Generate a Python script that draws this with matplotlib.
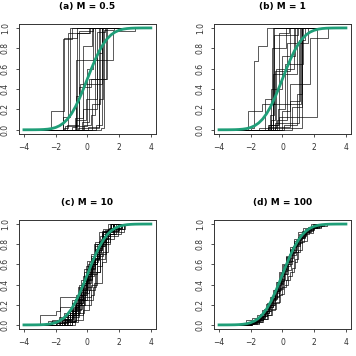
import numpy as np
import matplotlib
matplotlib.use("Agg")
import matplotlib.pyplot as plt

# base measure N(0,1) cdf, values typed in
base_x = [-4.0, -3.75, -3.5, -3.25, -3.0, -2.75, -2.5, -2.25, -2.0, -1.75, -1.5, -1.25, -1.0,
          -0.75, -0.5, -0.25, 0.0, 0.25, 0.5, 0.75, 1.0, 1.25, 1.5, 1.75, 2.0, 2.25, 2.5,
          2.75, 3.0, 3.25, 3.5, 3.75, 4.0]
base_F = [0.0000, 0.0001, 0.0002, 0.0006, 0.0013, 0.0030, 0.0062, 0.0122, 0.0228, 0.0401,
          0.0668, 0.1056, 0.1587, 0.2266, 0.3085, 0.4013, 0.5000, 0.5987, 0.6915, 0.7734,
          0.8413, 0.8944, 0.9332, 0.9599, 0.9772, 0.9878, 0.9938, 0.9970, 0.9987, 0.9994,
          0.9998, 0.9999, 1.0000]

titles = ["(a) M = 0.5", "(b) M = 1", "(c) M = 10", "(d) M = 100"]

# jump locations / cdf level after each jump, one pair per draw
draws_a = [
    ([-2.3, -1.45, -0.68], [0.18, 0.90, 1.0]),
    ([-1.55, -1.12], [0.13, 1.0]),
    ([-1.5, -1.2, 0.1], [0.02, 0.95, 1.0]),
    ([-1.0, -0.72, 1.6, 3.0], [0.03, 0.69, 0.97, 1.0]),
    ([-0.75, -0.45, 0.9], [0.33, 0.45, 1.0]),
    ([-0.6, 0.75], [0.02, 1.0]),
    ([-0.2, 0.25, 0.45], [0.05, 0.15, 1.0]),
    ([-0.35, 0.1, 1.22], [0.08, 0.50, 1.0]),
    ([-0.7, -0.1, 0.6, 1.1], [0.10, 0.30, 0.96, 1.0]),
    ([0.55, 0.9], [0.05, 1.0]),
    ([-0.8, -0.25, 0.3], [0.12, 0.82, 1.0]),
    ([0.3, 0.8], [0.25, 1.0]),
    ([-1.4, 0.0, 0.35], [0.04, 0.60, 1.0]),
    ([-0.55, 0.2, 1.2], [0.42, 0.50, 1.0]),
    ([-1.55, -1.0], [0.89, 1.0]),
    ([0.05, 0.7, 1.0], [0.03, 0.30, 1.0]),
    ([-0.65, 0.15], [0.95, 1.0]),
    ([0.85, 1.05, 1.7], [0.02, 0.98, 1.0]),
    ([-0.3, 0.6, 0.95], [0.20, 0.75, 1.0]),
    ([-1.3, -0.5, 0.35], [0.05, 0.97, 1.0]),
]

draws_b = [
    ([-2.2, -1.3, -0.55], [0.18, 0.25, 1.0]),
    ([-2.0, -1.77, -1.52, -1.0], [0.02, 0.68, 0.82, 1.0]),
    ([-0.85, -0.6], [0.05, 1.0]),
    ([-0.75, -0.5, 0.5], [0.10, 0.58, 1.0]),
    ([-0.6, 1.15], [0.25, 1.0]),
    ([-0.25, 2.15], [0.13, 1.0]),
    ([-0.9, 0.5, 1.73, 2.9], [0.03, 0.45, 0.90, 1.0]),
    ([0.6, 1.25], [0.22, 1.0]),
    ([-0.7, 0.0, 0.8], [0.40, 0.72, 1.0]),
    ([-0.5, 1.2], [0.02, 1.0]),
    ([-1.1, -0.65, 0.25], [0.30, 0.80, 1.0]),
    ([0.1, 0.9, 1.25], [0.05, 0.35, 1.0]),
    ([-0.8, -0.55, 1.0], [0.15, 0.93, 1.0]),
    ([-1.5, -0.4, 0.7], [0.02, 0.60, 1.0]),
    ([-0.35, 0.3, 1.6], [0.10, 0.85, 1.0]),
    ([-0.6, 0.9], [0.55, 1.0]),
    ([0.0, 0.45, 1.1], [0.18, 0.28, 1.0]),
    ([-0.7, -0.2, 0.4], [0.05, 0.95, 1.0]),
    ([-0.45, 1.05, 1.45], [0.07, 0.88, 1.0]),
    ([-0.9, -0.3, 0.15, 1.3], [0.05, 0.20, 0.65, 1.0]),
]

draws_c = [
    ([-3.0, -2.0, -1.7, -1.0, -0.5, -0.1, 0.3, 0.8, 1.3, 2.0],
     [0.10, 0.14, 0.18, 0.25, 0.37, 0.50, 0.66, 0.82, 0.93, 1.0]),
    ([-1.75, -0.5, -0.2, 0.1, 0.5, 0.9, 1.5],
     [0.28, 0.40, 0.52, 0.62, 0.78, 0.92, 1.0]),
    ([-2.3, -1.3, -0.8, -0.4, 0.0, 0.2, 0.6, 1.0, 2.3],
     [0.03, 0.10, 0.20, 0.35, 0.48, 0.60, 0.80, 0.95, 1.0]),
    ([-1.6, -1.0, -0.6, -0.3, 0.0, 0.35, 0.7, 1.1, 1.6],
     [0.05, 0.12, 0.22, 0.40, 0.55, 0.65, 0.82, 0.90, 1.0]),
    ([-1.2, -0.7, -0.4, 0.1, 0.5, 0.8, 1.2, 1.9],
     [0.04, 0.15, 0.25, 0.35, 0.52, 0.70, 0.88, 1.0]),
    ([-2.0, -1.4, -0.9, -0.5, -0.1, 0.3, 0.6, 0.9, 1.3, 2.4],
     [0.02, 0.08, 0.18, 0.30, 0.45, 0.60, 0.74, 0.85, 0.95, 1.0]),
    ([-1.5, -0.8, -0.3, 0.2, 0.4, 0.9, 1.2, 1.7],
     [0.03, 0.10, 0.20, 0.30, 0.42, 0.62, 0.85, 1.0]),
    ([-1.1, -0.6, -0.2, 0.1, 0.4, 0.7, 1.0, 1.5],
     [0.10, 0.20, 0.32, 0.48, 0.68, 0.80, 0.93, 1.0]),
    ([-2.5, -1.8, -1.2, -0.7, -0.4, -0.1, 0.2, 0.5, 1.0, 1.6],
     [0.04, 0.08, 0.14, 0.30, 0.45, 0.58, 0.70, 0.82, 0.92, 1.0]),
    ([-1.3, -0.9, -0.5, 0.0, 0.3, 0.6, 1.0, 1.4, 2.2],
     [0.06, 0.14, 0.25, 0.38, 0.50, 0.68, 0.82, 0.95, 1.0]),
    ([-1.9, -1.1, -0.7, -0.35, 0.05, 0.45, 0.8, 1.3],
     [0.05, 0.15, 0.28, 0.42, 0.60, 0.75, 0.88, 1.0]),
    ([-1.0, -0.5, -0.15, 0.15, 0.5, 0.7, 1.1, 1.8],
     [0.08, 0.20, 0.35, 0.52, 0.65, 0.78, 0.90, 1.0]),
    ([-1.4, -0.95, -0.6, -0.25, 0.0, 0.4, 0.75, 1.5],
     [0.06, 0.17, 0.30, 0.48, 0.63, 0.80, 0.92, 1.0]),
    ([-0.8, -0.3, 0.1, 0.35, 0.55, 0.8, 1.1, 1.45, 2.3],
     [0.05, 0.15, 0.25, 0.38, 0.52, 0.65, 0.80, 0.92, 1.0]),
    ([-2.2, -1.5, -1.0, -0.6, -0.2, 0.2, 0.5, 0.9, 1.6],
     [0.05, 0.12, 0.22, 0.38, 0.55, 0.68, 0.80, 0.93, 1.0]),
    ([-1.7, -1.2, -0.75, -0.4, -0.05, 0.25, 0.65, 1.05, 1.4],
     [0.02, 0.10, 0.20, 0.33, 0.50, 0.62, 0.78, 0.88, 1.0]),
    ([-1.3, -0.7, -0.45, -0.1, 0.15, 0.6, 0.95, 1.7],
     [0.04, 0.22, 0.35, 0.45, 0.60, 0.76, 0.90, 1.0]),
    ([-2.6, -1.6, -1.1, -0.8, -0.3, 0.0, 0.3, 0.7, 1.2, 1.9],
     [0.02, 0.06, 0.12, 0.26, 0.40, 0.52, 0.66, 0.80, 0.93, 1.0]),
    ([-1.0, -0.6, -0.2, 0.25, 0.6, 0.9, 1.3, 2.1],
     [0.03, 0.12, 0.28, 0.40, 0.58, 0.72, 0.90, 1.0]),
    ([-1.6, -0.85, -0.45, -0.15, 0.2, 0.5, 0.85, 1.25, 2.0],
     [0.03, 0.12, 0.25, 0.42, 0.55, 0.72, 0.85, 0.94, 1.0]),
    ([-2.0, -1.2, -0.8, -0.55, -0.2, 0.05, 0.4, 0.75, 1.1, 1.7],
     [0.04, 0.10, 0.18, 0.30, 0.44, 0.58, 0.70, 0.83, 0.94, 1.0]),
    ([-1.4, -0.9, -0.35, 0.0, 0.3, 0.6, 0.95, 1.4, 2.1],
     [0.05, 0.16, 0.30, 0.46, 0.60, 0.74, 0.86, 0.96, 1.0]),
    ([-1.8, -1.1, -0.65, -0.3, 0.1, 0.45, 0.85, 1.2, 1.6],
     [0.06, 0.14, 0.26, 0.42, 0.56, 0.70, 0.84, 0.93, 1.0]),
    ([-1.5, -0.95, -0.55, -0.25, 0.05, 0.35, 0.7, 1.0, 1.35, 2.2],
     [0.03, 0.10, 0.22, 0.36, 0.50, 0.64, 0.78, 0.88, 0.96, 1.0]),
]

draws_d = [
    ([-2.4, -1.9, -1.5, -1.2, -0.95, -0.7, -0.5, -0.3, -0.1, 0.1, 0.3, 0.5, 0.75, 1.0, 1.3, 1.7, 2.3],
     [0.02, 0.04, 0.08, 0.13, 0.19, 0.26, 0.33, 0.40, 0.48, 0.56, 0.64, 0.72, 0.80, 0.86, 0.92, 0.97, 1.0]),
    ([-2.2, -1.8, -1.45, -1.15, -0.9, -0.65, -0.45, -0.25, -0.05, 0.15, 0.35, 0.6, 0.85, 1.1, 1.4, 1.9, 2.6],
     [0.01, 0.03, 0.06, 0.10, 0.16, 0.22, 0.29, 0.37, 0.46, 0.55, 0.63, 0.72, 0.80, 0.87, 0.93, 0.98, 1.0]),
    ([-2.0, -1.6, -1.3, -1.0, -0.75, -0.5, -0.25, 0.0, 0.25, 0.5, 0.7, 0.9, 1.1, 1.35, 1.7, 2.2],
     [0.01, 0.03, 0.06, 0.10, 0.15, 0.22, 0.30, 0.38, 0.45, 0.52, 0.62, 0.72, 0.82, 0.90, 0.96, 1.0]),
    ([-3.3, -2.3, -1.9, -1.6, -1.3, -1.05, -0.8, -0.6, -0.4, -0.2, 0.0, 0.2, 0.45, 0.7, 1.0, 1.3, 1.8],
     [0.01, 0.05, 0.07, 0.10, 0.15, 0.21, 0.28, 0.35, 0.43, 0.52, 0.60, 0.68, 0.77, 0.85, 0.92, 0.96, 1.0]),
    ([-2.1, -1.7, -1.35, -1.1, -0.85, -0.6, -0.35, -0.15, 0.05, 0.25, 0.45, 0.65, 0.9, 1.15, 1.5, 2.0, 2.8],
     [0.02, 0.04, 0.08, 0.12, 0.18, 0.26, 0.34, 0.42, 0.50, 0.58, 0.66, 0.74, 0.82, 0.89, 0.94, 0.98, 1.0]),
    ([-2.3, -1.85, -1.55, -1.25, -1.0, -0.8, -0.55, -0.35, -0.1, 0.1, 0.3, 0.55, 0.8, 1.05, 1.35, 1.8, 2.4],
     [0.01, 0.03, 0.05, 0.09, 0.14, 0.20, 0.27, 0.35, 0.44, 0.53, 0.62, 0.71, 0.79, 0.86, 0.92, 0.97, 1.0]),
    ([-1.9, -1.5, -1.2, -0.95, -0.7, -0.45, -0.2, 0.05, 0.3, 0.55, 0.75, 0.95, 1.2, 1.5, 1.9, 2.5],
     [0.02, 0.05, 0.09, 0.14, 0.20, 0.28, 0.36, 0.45, 0.54, 0.63, 0.72, 0.81, 0.88, 0.94, 0.98, 1.0]),
    ([-2.6, -2.0, -1.6, -1.3, -1.05, -0.8, -0.6, -0.4, -0.2, 0.0, 0.2, 0.4, 0.65, 0.9, 1.2, 1.55, 2.2],
     [0.01, 0.03, 0.06, 0.11, 0.17, 0.23, 0.30, 0.38, 0.46, 0.54, 0.62, 0.70, 0.78, 0.85, 0.91, 0.96, 1.0]),
    ([-2.0, -1.65, -1.4, -1.1, -0.85, -0.6, -0.4, -0.15, 0.1, 0.35, 0.6, 0.85, 1.1, 1.4, 1.75, 2.3],
     [0.02, 0.04, 0.07, 0.12, 0.18, 0.25, 0.32, 0.41, 0.50, 0.60, 0.69, 0.78, 0.86, 0.92, 0.96, 1.0]),
    ([-2.5, -1.95, -1.6, -1.35, -1.1, -0.85, -0.65, -0.45, -0.25, -0.05, 0.15, 0.4, 0.6, 0.85, 1.15, 1.5, 2.0],
     [0.01, 0.03, 0.06, 0.09, 0.14, 0.20, 0.27, 0.34, 0.42, 0.51, 0.60, 0.69, 0.77, 0.84, 0.90, 0.95, 1.0]),
    ([-2.3, -1.9, -1.55, -1.3, -1.05, -0.85, -0.65, -0.45, -0.3, -0.1, 0.1, 0.3, 0.5, 0.75, 1.0, 1.3, 1.7, 2.2],
     [0.02, 0.04, 0.07, 0.11, 0.16, 0.22, 0.29, 0.36, 0.43, 0.51, 0.59, 0.67, 0.74, 0.81, 0.87, 0.93, 0.97, 1.0]),
    ([-2.2, -1.75, -1.4, -1.15, -0.9, -0.7, -0.5, -0.3, -0.1, 0.1, 0.3, 0.5, 0.7, 0.95, 1.25, 1.6, 2.1],
     [0.02, 0.05, 0.09, 0.14, 0.20, 0.27, 0.34, 0.42, 0.50, 0.58, 0.66, 0.74, 0.81, 0.87, 0.93, 0.97, 1.0]),
    ([-1.9, -1.5, -1.2, -0.9, -0.65, -0.4, -0.15, 0.1, 0.35, 0.6, 0.8, 1.0, 1.25, 1.55, 1.9, 2.4],
     [0.01, 0.03, 0.06, 0.10, 0.16, 0.23, 0.31, 0.40, 0.48, 0.56, 0.65, 0.74, 0.83, 0.91, 0.96, 1.0]),
    ([-2.5, -2.0, -1.7, -1.4, -1.15, -0.95, -0.75, -0.55, -0.35, -0.15, 0.05, 0.25, 0.5, 0.75, 1.05, 1.4, 1.9],
     [0.02, 0.04, 0.07, 0.11, 0.16, 0.22, 0.28, 0.35, 0.43, 0.51, 0.59, 0.67, 0.75, 0.83, 0.90, 0.95, 1.0]),
]

all_draws = [draws_a, draws_b, draws_c, draws_d]

# axes boxes in figure fractions [left, bottom, width, height]
boxes = [[0.053, 0.624, 0.385, 0.309],
         [0.601, 0.624, 0.385, 0.309],
         [0.053, 0.076, 0.385, 0.306],
         [0.601, 0.076, 0.385, 0.306]]

fig = plt.figure(figsize=(3.56, 3.56), dpi=100)

for k in range(4):
    ax = fig.add_axes(boxes[k])
    for xs, Fs in all_draws[k]:
        x = [-4.0] + xs + [4.0]
        y = [0.0] + Fs + [Fs[-1]]
        ax.step(x, y, where='post', color='black', lw=0.7, alpha=0.65)
    ax.plot(base_x, base_F, color='#1f9e78', lw=2.0)
    ax.set_xlim(-4.32, 4.32)
    ax.set_ylim(-0.04, 1.04)
    ax.set_xticks([-4, -2, 0, 2, 4])
    ax.set_yticks([0.0, 0.2, 0.4, 0.6, 0.8, 1.0])
    ax.set_yticklabels(['0.0', '0.2', '0.4', '0.6', '0.8', '1.0'], rotation=90, va='center')
    ax.tick_params(labelsize=5.5, length=2.5, width=0.6, pad=4, colors='#333333')
    for s in ax.spines.values():
        s.set_linewidth(0.7)
        s.set_color('#333333')
    ax.set_title(titles[k], fontsize=6.5, fontweight='bold', pad=11)

fig.savefig("out.png", dpi=100)
